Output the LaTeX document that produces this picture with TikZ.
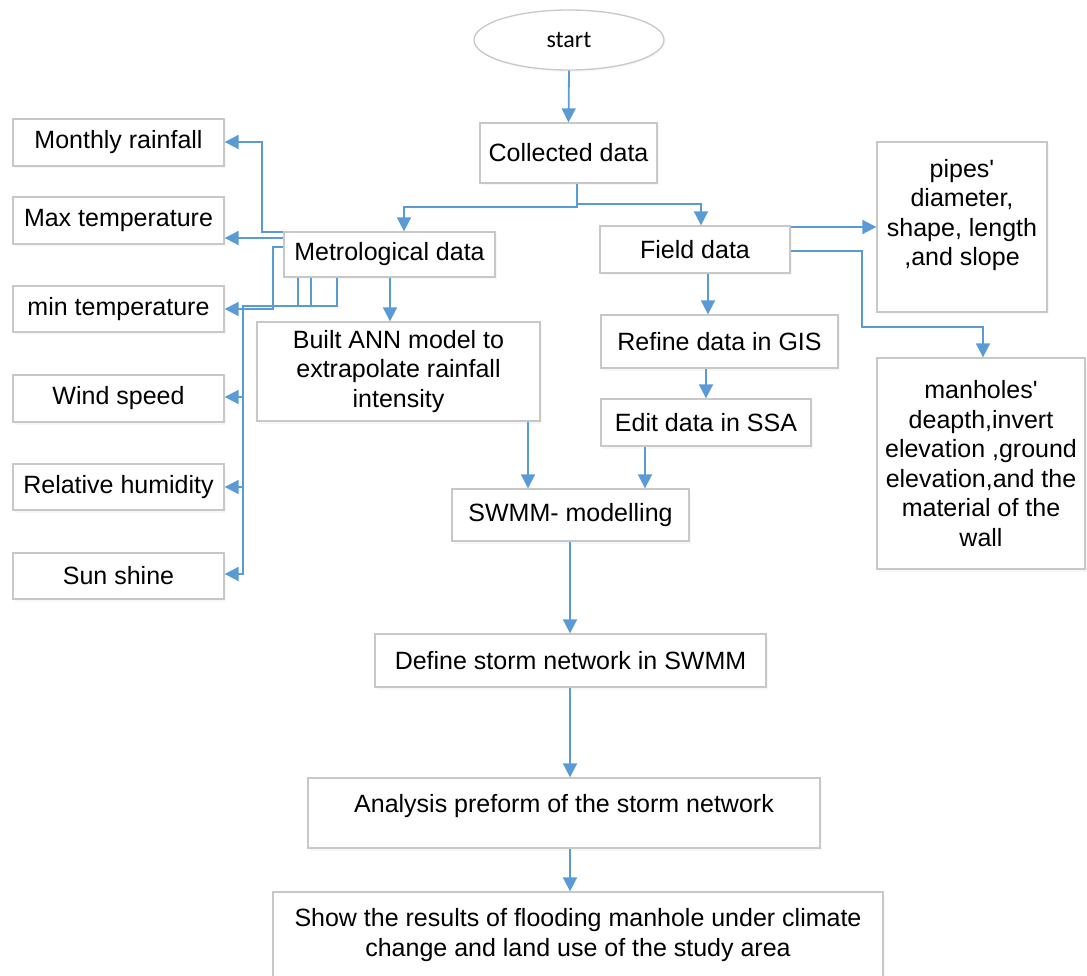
\documentclass[tikz,border=0pt]{standalone}
\usepackage{fontspec}
\newfontfamily\boxfont{Liberation Sans}
\newfontfamily\startfont{Carlito}
\usetikzlibrary{arrows.meta,shapes.geometric,shadows}
\definecolor{flowblue}{HTML}{5B9BD5}
\definecolor{boxgray}{HTML}{C8C8C8}
\begin{document}
\begin{tikzpicture}[x=1pt,y=-1pt,
  box/.style={draw=boxgray, line width=1.3pt, fill=white, inner sep=0pt,
    align=center, font=\boxfont\fontsize{25}{29.5}\selectfont,
    drop shadow={shadow xshift=2pt, shadow yshift=-2.5pt, fill=black!6}},
  txt/.style={align=center, inner sep=0pt, font=\boxfont\fontsize{25}{29.5}\selectfont},
  arr/.style={draw=flowblue, line width=1.8pt, -{Triangle[length=14pt,width=14pt]}}
]
\useasboundingbox (0,0) rectangle (1087,976);

% start terminal
\node[ellipse, draw=boxgray, line width=1.3pt, fill=white, minimum width=190pt,
  minimum height=60pt, inner sep=0pt, font=\startfont\fontsize{24}{28}\selectfont,
  drop shadow={shadow xshift=1.5pt, shadow yshift=-2pt, fill=black!5}]
  (start) at (569,40) {start};

% main column
\node[box, minimum width=177pt, minimum height=60pt] (coll) at (568.5,153) {Collected data};
\node[box, minimum width=211pt, minimum height=45pt] (metro) at (389.5,254.5) {Metrological data};
\node[box, minimum width=190pt, minimum height=47pt] (field) at (695,249.5) {Field data};
\node[box, minimum width=283pt, minimum height=99pt] (ann) at (398.5,371.5)
  {Built ANN model to\\extrapolate rainfall\\intensity};
\node[box, minimum width=237pt, minimum height=53pt] (refine) at (719.5,341.5) {Refine data in GIS};
\node[box, minimum width=210pt, minimum height=47pt] (edit) at (706,422.5) {Edit data in SSA};
\node[box, minimum width=237pt, minimum height=52pt] (swmm) at (570.5,515) {SWMM- modelling};
\node[box, minimum width=391pt, minimum height=53pt] (define) at (570.5,660.5) {Define storm network in SWMM};
\node[box, minimum width=512pt, minimum height=70pt] (analysis) at (564,813) {};
\node[txt, yshift=7pt] (analysistext) at (analysis.center) {Analysis preform of the storm network};
\node[box, minimum width=610pt, minimum height=98pt] (show) at (578,941) {};
\node[txt] (showtext) at (578,935) {Show the results of flooding manhole under climate\\change and land use of the study area};

% meteorological inputs
\node[box, minimum width=211pt, minimum height=47pt] (monthly) at (118.5,142.5) {Monthly rainfall};
\node[box, minimum width=211pt, minimum height=47pt] (max) at (118.5,220.5) {Max temperature};
\node[box, minimum width=211pt, minimum height=46pt] (min) at (118.5,309) {min temperature};
\node[box, minimum width=211pt, minimum height=47pt] (wind) at (118.5,398.5) {Wind speed};
\node[box, minimum width=211pt, minimum height=46pt] (humid) at (118.5,487) {Relative humidity};
\node[box, minimum width=211pt, minimum height=46pt] (sun) at (118.5,576) {Sun shine};

% field inputs
\node[box, minimum width=170pt, minimum height=170pt] (pipes) at (962,227) {};
\node[txt] (pipestext) at (962,215) {pipes'\\diameter,\\shape, length\\,and slope};
\node[box, minimum width=208pt, minimum height=211pt] (manholes) at (981,463.5)
  {manholes'\\deapth,invert\\elevation ,ground\\elevation,and the\\material of the\\wall};

% connectors
\draw[arr] (start.south) -- (coll.north);
\draw[arr] (coll.south -| 577,0) -- (577,207) -- (404,207) -- (metro.north -| 404,0);
\draw[arr] (coll.south -| 577,0) -- (577,204) -- (701,204) -- (field.north -| 701,0);

\draw[arr] (metro.west |- 0,232) -- (262,232) -- (262,142) -- (monthly.east |- 0,142);
\draw[arr] (metro.west |- 0,238) -- (max.east |- 0,238);
\draw[arr] (metro.west |- 0,247) -- (273,247) -- (273,309) -- (min.east |- 0,309);
\draw[arr] (metro.south -| 298,0) -- (298,306) -- (243,306) -- (243,397) -- (wind.east |- 0,397);
\draw[arr] (metro.south -| 311,0) -- (311,306) -- (243,306) -- (243,487) -- (humid.east |- 0,487);
\draw[arr] (metro.south -| 337,0) -- (337,306) -- (243,306) -- (243,574) -- (sun.east |- 0,574);
\draw[arr] (metro.south -| 390,0) -- (ann.north -| 390,0);

\draw[arr] (field.east |- 0,227) -- (pipes.west |- 0,227);
\draw[arr] (field.east |- 0,251) -- (862,251) -- (862,327) -- (983,327) -- (manholes.north -| 983,0);
\draw[arr] (field.south -| 708,0) -- (refine.north -| 708,0);
\draw[arr] (refine.south -| 706,0) -- (edit.north -| 706,0);

\draw[arr] (ann.south -| 528,0) -- (swmm.north -| 528,0);
\draw[arr] (edit.south -| 645,0) -- (swmm.north -| 645,0);
\draw[arr] (swmm.south -| 570,0) -- (define.north -| 570,0);
\draw[arr] (define.south -| 570,0) -- (analysis.north -| 570,0);
\draw[arr] (analysis.south -| 570,0) -- (show.north -| 570,0);
\end{tikzpicture}
\end{document}
